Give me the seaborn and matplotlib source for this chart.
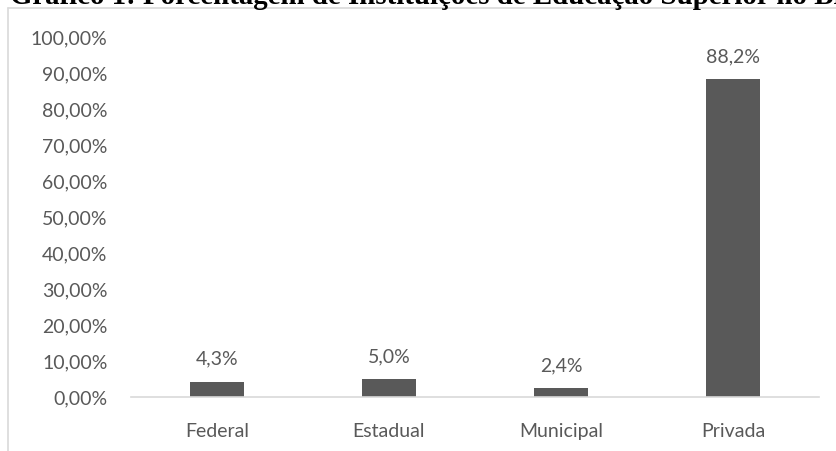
import matplotlib
matplotlib.use("Agg")
import matplotlib.pyplot as plt
from matplotlib.lines import Line2D
from matplotlib.ticker import FuncFormatter, FixedLocator
import seaborn as sns
import pandas as pd

categories = ["Federal", "Estadual", "Municipal", "Privada"]
shares = [0.043, 0.050, 0.024, 0.882]
value_labels = ["4,3%", "5,0%", "2,4%", "88,2%"]
title = "Gráfico 1: Porcentagem de Instituições de Educação Superior no Brasil"

sns.set_style("white")
plt.rcParams["font.family"] = ["Lato", "DejaVu Sans"]

W, H = 836, 451
fig = plt.figure(figsize=(W / 100, H / 100), dpi=100)

text_col = "#595959"
bar_col = "#595959"
line_col = "#d9d9d9"

# chart frame (left and top edges)
fig.add_artist(Line2D([7.5 / W, 7.5 / W], [0, 1 - 7.5 / H], transform=fig.transFigure,
                      color=line_col, lw=1.2))
fig.add_artist(Line2D([7.5 / W, 1], [1 - 7.5 / H, 1 - 7.5 / H], transform=fig.transFigure,
                      color=line_col, lw=1.2))

fig.text(10 / W, 1 - 3.5 / H, title, family="Liberation Serif", fontweight="bold",
         fontsize=20.8, color="black", va="baseline", ha="left")

ax = fig.add_axes([131 / W, 54 / H, (819 - 131) / W, (397 - 37) / H])
df = pd.DataFrame({"cat": categories, "val": shares})
sns.barplot(data=df, x="cat", y="val", color=bar_col, width=0.31, ax=ax,
            saturation=1, edgecolor="none")

ax.set_ylim(0, 1.0)
ax.set_xlim(-0.5, len(categories) - 0.5)
ax.set_yticks([i / 10 for i in range(11)])
ax.yaxis.set_major_formatter(FuncFormatter(lambda v, p: f"{v*100:.2f}%".replace(".", ",")))
ax.tick_params(axis="y", length=0, pad=17, labelsize=14, labelcolor=text_col)
ax.tick_params(axis="x", which="major", length=0, pad=19, labelsize=14, labelcolor=text_col)
ax.xaxis.set_minor_locator(FixedLocator([i - 0.5 for i in range(len(categories) + 1)]))
ax.tick_params(axis="x", which="minor", length=5, width=1.2, color=line_col, direction="out")
ax.set_xlabel("")
ax.set_ylabel("")
for s in ["left", "right", "top"]:
    ax.spines[s].set_visible(False)
ax.spines["bottom"].set_color(line_col)
ax.spines["bottom"].set_linewidth(1.2)

for i, (v, lab) in enumerate(zip(shares, value_labels)):
    ax.annotate(lab, (i, v), xytext=(0, 10), textcoords="offset points",
                ha="center", va="bottom", fontsize=14, color=text_col)

fig.savefig("out.png", dpi=100)
